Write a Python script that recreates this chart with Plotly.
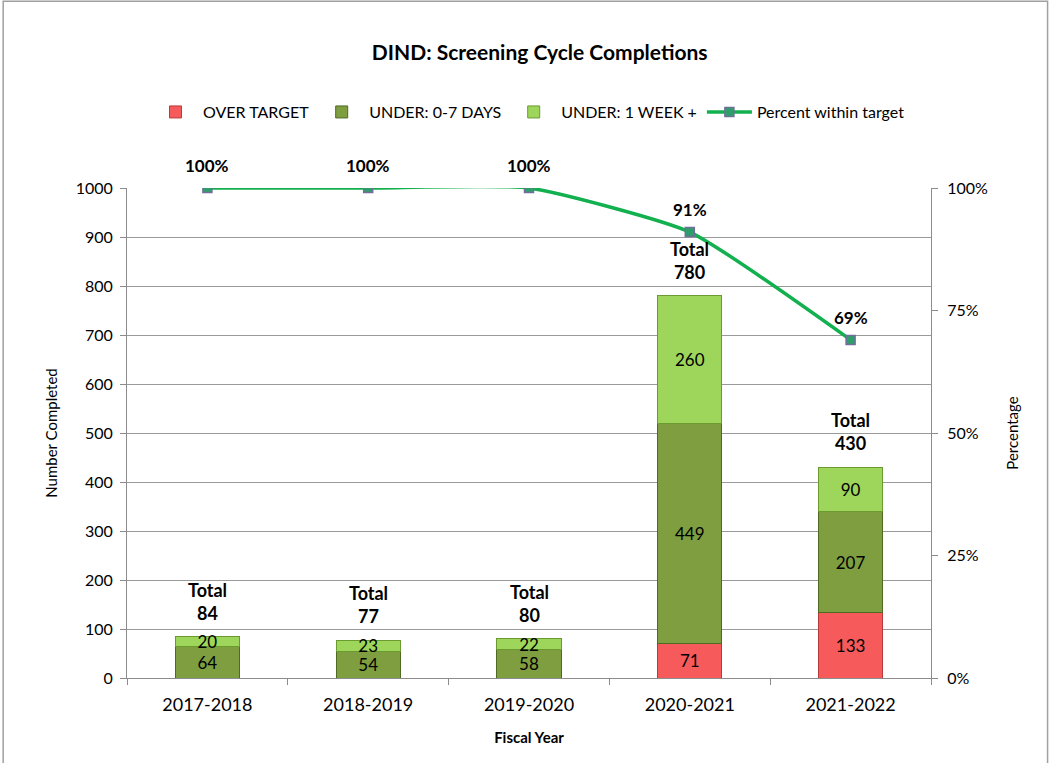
import plotly.graph_objects as go

# Screening cycle completions by fiscal year
years = ["2017-2018", "2018-2019", "2019-2020", "2020-2021", "2021-2022"]
over_target = [0, 0, 0, 71, 133]
under_0_7 = [64, 54, 58, 449, 207]
under_1_week = [20, 23, 22, 260, 90]
totals = [84, 77, 80, 780, 430]
pct_within = [1.00, 1.00, 1.00, 0.91, 0.69]

FONT = "Lato"
fig = go.Figure()


def seg_text(vals):
    return [str(v) if v else "" for v in vals]


bar_series = [
    ("OVER TARGET", over_target, "#F65A5A", "#B83A3A"),
    ("UNDER: 0-7 DAYS", under_0_7, "#7E9E40", "#4F6A22"),
    ("UNDER: 1 WEEK +", under_1_week, "#9DD65A", "#6A9A30"),
]
for name, vals, color, edge in bar_series:
    fig.add_trace(go.Bar(
        x=years, y=vals, name=name,
        marker=dict(color=color, line=dict(color=edge, width=1)),
        width=0.4,
        text=seg_text(vals), textposition="inside", insidetextanchor="middle",
        constraintext="none", textangle=0,
        textfont=dict(family=FONT, size=17, color="black"),
        hoverinfo="skip",
    ))

fig.add_trace(go.Scatter(
    x=years, y=pct_within, name="Percent within target", yaxis="y2",
    mode="lines+markers",
    line=dict(color="#12B04E", width=3.5, shape="spline", smoothing=0.5),
    marker=dict(symbol="square", size=9, color="#2E9F6A",
                line=dict(color="#6F6F9A", width=1.5)),
))

annotations = []
for yr, t in zip(years, totals):
    annotations.append(dict(
        x=yr, y=t, xref="x", yref="y", yanchor="bottom", yshift=11,
        text=f"<b>Total</b><br><b>{t}</b>", showarrow=False,
        font=dict(family=FONT, size=18, color="black"),
    ))
for yr, p in zip(years, pct_within):
    annotations.append(dict(
        x=yr, y=p, xref="x", yref="y2", yanchor="bottom", yshift=10,
        text=f"<b>{round(p * 100)}%</b>", showarrow=False,
        font=dict(family=FONT, size=17, color="black"),
    ))

fig.update_layout(
    width=1050, height=763,
    margin=dict(l=127, r=119, t=188, b=85),
    paper_bgcolor="white", plot_bgcolor="white",
    font=dict(family=FONT, size=15, color="black"),
    barmode="stack",
    title=dict(text="<b>DIND: Screening Cycle Completions</b>",
               x=0.514, xref="container", xanchor="center",
               y=1 - 53 / 763, yref="container", yanchor="middle",
               font=dict(family=FONT, size=21, color="black")),
    legend=dict(orientation="h", x=0.5, xanchor="center", y=1.155,
                yanchor="middle", font=dict(family=FONT, size=16),
                itemwidth=45, traceorder="normal"),
    xaxis=dict(
        showline=True, linecolor="#8C8C8C", linewidth=1,
        ticks="outside", tickson="boundaries", ticklen=6, tickcolor="#8C8C8C",
        tickfont=dict(family=FONT, size=18), ticklabelstandoff=10,
        title=dict(text="<b>Fiscal Year</b>", font=dict(family=FONT, size=15),
                   standoff=18),
    ),
    yaxis=dict(
        range=[0, 1000], dtick=100, showgrid=True, gridcolor="#9A9A9A",
        showline=True, linecolor="#8C8C8C", linewidth=1,
        ticks="outside", ticklen=6, tickcolor="#8C8C8C",
        tickfont=dict(family=FONT, size=16), zeroline=False,
        ticklabelstandoff=4,
        title=dict(text="Number Completed", font=dict(family=FONT, size=15),
                   standoff=14),
    ),
    yaxis2=dict(
        range=[0, 1], dtick=0.25, tickformat=".0%", overlaying="y",
        side="right", showgrid=False, zeroline=False,
        showline=True, linecolor="#8C8C8C", linewidth=1,
        ticks="outside", ticklen=6, tickcolor="#8C8C8C",
        tickfont=dict(family=FONT, size=16), ticklabelstandoff=6,
        title=dict(text="Percentage", font=dict(family=FONT, size=15),
                   standoff=20),
    ),
    annotations=annotations,
    shapes=[dict(type="rect", xref="paper", yref="paper",
                 x0=-0.154, x1=1.145, y0=-0.19, y1=1.381,
                 line=dict(color="#A0A0A0", width=1.5), layer="below")],
)

fig.write_html("out.html")
